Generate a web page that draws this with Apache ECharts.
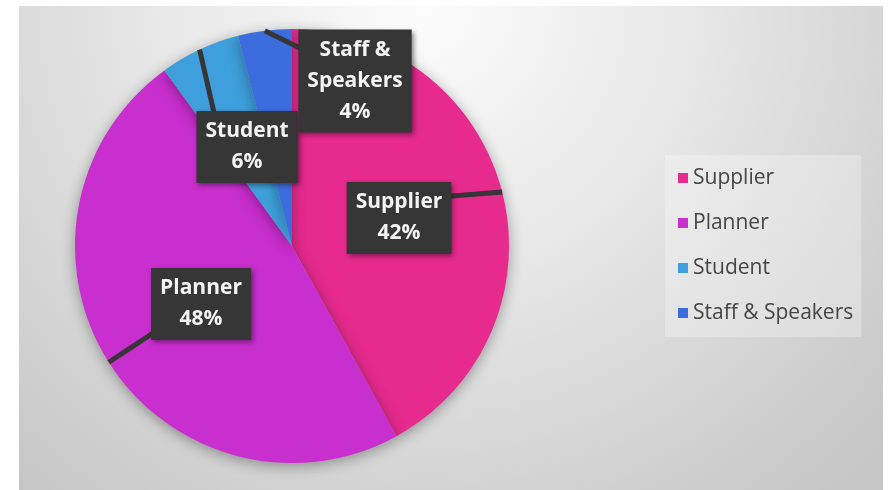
<!DOCTYPE html>
<html>
<head>
<meta charset="utf-8">
<script src="https://cdn.jsdelivr.net/npm/echarts@6/dist/echarts.min.js"></script>
<style>
  html, body { margin: 0; padding: 0; background: #fff; }
  #chart { position: absolute; left: 19px; top: 6px; width: 864px; height: 484px; }
</style>
</head>
<body>
<div id="chart"></div>
<script>
'use strict';

var categories = ['Supplier', 'Planner', 'Student', 'Staff & Speakers'];
var shares = [42, 48, 6, 4];
var colors = ['#e62a8e', '#c92ece', '#3e9fdc', '#3c6ddf'];

// where each callout box sits (chart px, box centre)
var boxPos = [[380, 212], [182, 298], [228, 141], [336, 75]];
// where the callout tail meets the box (fraction of box width / height)
var tailAt = [[0.95, 0.2], [0.08, 0.85], [0.18, 0.06], [0.05, 0.2]];

var pieData = categories.map(function (name, i) {
  return { name: name, value: shares[i], itemStyle: { color: colors[i] } };
});

var pieCenter = [273, 240];
var pieRadius = 217;

var myChart = echarts.init(document.getElementById('chart'));
myChart.setOption({
  backgroundColor: new echarts.graphic.RadialGradient(0.47, 0, 1.3, [
    { offset: 0, color: '#fcfcfc' },
    { offset: 0.45, color: '#e6e6e6' },
    { offset: 1, color: '#c6c6c6' },
  ]),
  animation: false,
  legend: {
    orient: 'vertical',
    left: 646,
    top: 149,
    padding: [12, 8, 13, 13],
    backgroundColor: 'rgba(255,255,255,0.28)',
    itemWidth: 10,
    itemHeight: 10,
    itemGap: 23,
    icon: 'rect',
    data: categories,
    textStyle: {
      fontFamily: 'Open Sans',
      fontSize: 21,
      lineHeight: 22,
      color: '#454545',
    },
  },
  series: [{
    // the pie itself, with a soft shadow underneath
    type: 'pie',
    center: pieCenter,
    radius: pieRadius,
    startAngle: 90,
    label: { show: false },
    labelLine: { show: false },
    itemStyle: {
      shadowBlur: 14,
      shadowColor: 'rgba(0,0,0,0.35)',
      shadowOffsetY: 3,
    },
    data: pieData,
  }, {
    // invisible copy on top, only carries the callouts
    type: 'pie',
    z: 5,
    silent: true,
    legendHoverLink: false,
    center: pieCenter,
    radius: pieRadius,
    startAngle: 90,
    avoidLabelOverlap: false,
    data: pieData.map(function (d) {
      return { name: d.name, value: d.value, itemStyle: { color: 'rgba(0,0,0,0)' } };
    }),
    label: {
      show: true,
      position: 'outside',
      formatter: function (p) {
        return p.name.replace(' & ', ' &\n') + '\n' + Math.round(p.percent) + '%';
      },
      fontFamily: 'Open Sans',
      fontWeight: 'bold',
      fontSize: 21,
      lineHeight: 31,
      color: '#f4f4f4',
      align: 'center',
      backgroundColor: '#363636',
      padding: [5, 9],
      shadowColor: 'rgba(0,0,0,0.45)',
      shadowBlur: 5,
      shadowOffsetX: 2,
      shadowOffsetY: 2,
    },
    labelLine: {
      show: true,
      showAbove: true,
      length: 10,
      length2: 10,
      lineStyle: { color: '#363636', width: 5 },
    },
    labelLayout: function (params) {
      var i = params.dataIndex;
      var pos = boxPos[i];
      var w = params.labelRect.width;
      var h = params.labelRect.height;
      var x0 = pos[0] - w / 2, y0 = pos[1] - h / 2;
      var start = params.labelLinePoints[0];
      var end = [x0 + tailAt[i][0] * w, y0 + tailAt[i][1] * h];
      return {
        x: pos[0],
        y: pos[1],
        align: 'center',
        verticalAlign: 'middle',
        labelLinePoints: [start, end, end],
      };
    },
  }],
});
</script>
</body>
</html>
